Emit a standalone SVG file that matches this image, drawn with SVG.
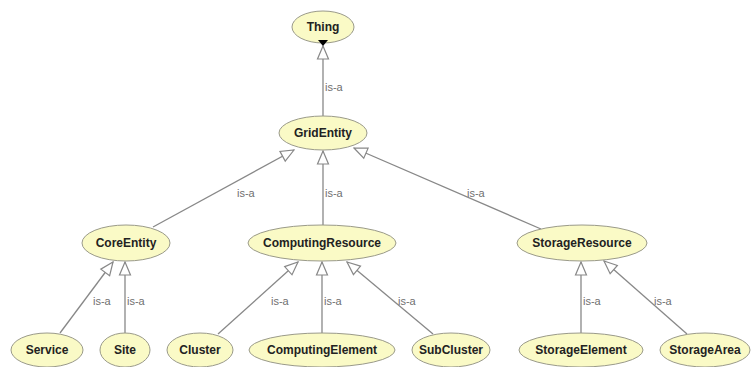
<svg xmlns="http://www.w3.org/2000/svg" width="751" height="367" viewBox="0 0 751 367">
<style>
.n ellipse{fill:#fafac6;stroke:#9a9a8a;stroke-width:1}
.n text{font-family:"Liberation Sans",Arial,sans-serif;font-size:12px;font-weight:bold;fill:#222;text-anchor:middle}
.e line{stroke:#888;stroke-width:1.3;marker-start:url(#tri)}
.e text{font-family:"Liberation Sans",Arial,sans-serif;font-size:11px;fill:#707070}
</style>
<defs>
<marker id="tri" markerUnits="userSpaceOnUse" markerWidth="16" markerHeight="14" refX="0" refY="6" orient="auto" viewBox="-1 0 16 12">
<path d="M0,6 L13,0.5 L13,11.5 Z" fill="#fff" stroke="#888" stroke-width="1.2"/>
</marker>
</defs>
<rect width="751" height="367" fill="#fff"/>
<g id="edges" class="e">
<line x1="323" y1="46" x2="323" y2="116"/><text x="325" y="91">is-a</text>
<line x1="294" y1="150" x2="153" y2="227"/><text x="237" y="197">is-a</text>
<line x1="323" y1="151" x2="323" y2="225"/><text x="325" y="197">is-a</text>
<line x1="354" y1="148" x2="541" y2="229"/><text x="467" y="197">is-a</text>
<line x1="113" y1="262" x2="60" y2="333"/><text x="93" y="305">is-a</text>
<line x1="125" y1="262" x2="125" y2="333"/><text x="127" y="305">is-a</text>
<line x1="298" y1="262" x2="218" y2="334"/><text x="271" y="305">is-a</text>
<line x1="322" y1="262" x2="322" y2="333"/><text x="324" y="305">is-a</text>
<line x1="347" y1="262" x2="433" y2="334"/><text x="398" y="305">is-a</text>
<line x1="581" y1="262" x2="581" y2="333"/><text x="583" y="305">is-a</text>
<line x1="604" y1="261" x2="687" y2="334"/><text x="654" y="305">is-a</text>
</g>
<g id="Thing" class="n"><ellipse cx="323" cy="27" rx="31" ry="16"/><text x="323" y="31">Thing</text><path d="M318,40 L328,40 L323,46 Z" fill="#000"/></g>
<g id="GridEntity" class="n"><ellipse cx="323" cy="133" rx="44" ry="17"/><text x="323" y="137">GridEntity</text></g>
<g id="CoreEntity" class="n"><ellipse cx="126" cy="243" rx="44" ry="18"/><text x="126" y="247">CoreEntity</text></g>
<g id="ComputingResource" class="n"><ellipse cx="322" cy="243" rx="74" ry="18"/><text x="322" y="247">ComputingResource</text></g>
<g id="StorageResource" class="n"><ellipse cx="582" cy="243" rx="65" ry="18"/><text x="582" y="247">StorageResource</text></g>
<g id="Service" class="n"><ellipse cx="47" cy="350" rx="36" ry="17"/><text x="47" y="354">Service</text></g>
<g id="Site" class="n"><ellipse cx="125" cy="350" rx="25" ry="17"/><text x="125" y="354">Site</text></g>
<g id="Cluster" class="n"><ellipse cx="200" cy="350" rx="33" ry="17"/><text x="200" y="354">Cluster</text></g>
<g id="ComputingElement" class="n"><ellipse cx="322" cy="350" rx="73" ry="17"/><text x="322" y="354">ComputingElement</text></g>
<g id="SubCluster" class="n"><ellipse cx="451" cy="350" rx="39" ry="17"/><text x="451" y="354">SubCluster</text></g>
<g id="StorageElement" class="n"><ellipse cx="581" cy="350" rx="62" ry="17"/><text x="581" y="354">StorageElement</text></g>
<g id="StorageArea" class="n"><ellipse cx="705" cy="350" rx="45" ry="17"/><text x="705" y="354">StorageArea</text></g>
</svg>
